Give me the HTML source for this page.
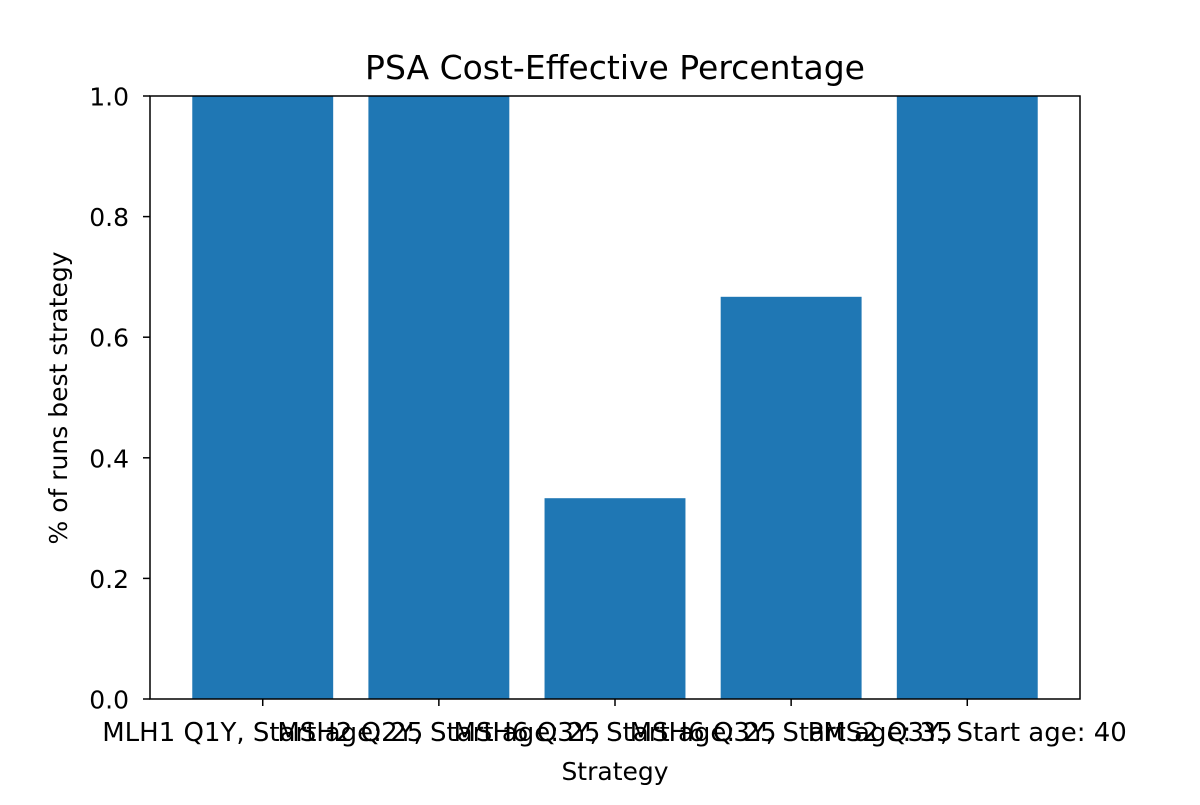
<!DOCTYPE html>
<html><head><meta charset="utf-8"><style>
body{margin:0;background:#fff;}
svg text{font-family:"DejaVu Sans","Liberation Sans",sans-serif;fill:#000;}
</style></head><body>
<svg id="chart" width="1200" height="800">
<rect width="1200" height="800" fill="#fff"/>
<text x="615" y="79" font-size="33" text-anchor="middle">PSA Cost-Effective Percentage</text>
<g id="bars"></g>
<g id="yticks"></g>
<g id="xticks"></g>
<rect x="150" y="96" width="930" height="603" fill="none" stroke="#000" stroke-width="1.5"/>
<text x="615" y="780" font-size="25" text-anchor="middle">Strategy</text>
<text transform="translate(67,398) rotate(-90)" font-size="25" text-anchor="middle">% of runs best strategy</text>
</svg>
<script>
const categories=["MLH1 Q1Y, Start age: 25","MSH2 Q2Y, Start age: 25","MSH6 Q3Y, Start age: 25","MSH6 Q3Y, Start age: 35","PMS2 Q3Y, Start age: 40"];
const values=[1.0,1.0,0.333,0.667,1.0];
const yTicks=[0,0.2,0.4,0.6,0.8,1.0];
const yTickLabels=["0.0","0.2","0.4","0.6","0.8","1.0"];
const ns="http://www.w3.org/2000/svg";
const L=150,R=1080,T=96,B=699;
const xmin=-0.64,xmax=categories.length-1+0.64;
const xs=v=>L+(v-xmin)/(xmax-xmin)*(R-L);
const ys=v=>B-(v/1.0)*(B-T);
function mk(t,a,p){const e=document.createElementNS(ns,t);for(const k in a)e.setAttribute(k,a[k]);p.appendChild(e);return e;}
const bars=document.getElementById('bars'),xt=document.getElementById('xticks'),yt=document.getElementById('yticks');
categories.forEach((c,i)=>{
 const x0=xs(i-0.4),x1=xs(i+0.4);
 const r=mk('rect',{x:x0,y:ys(values[i]),width:x1-x0,height:ys(0)-ys(values[i]),fill:'#1f77b4'},bars);
 
 
 const l=mk('line',{x1:xs(i),x2:xs(i),y1:B,y2:B+7,stroke:'#000','stroke-width':1.5},xt);
 
 
 const t=mk('text',{x:xs(i),y:741,'font-size':26,'text-anchor':'middle'},xt);
 t.textContent=c;
 
 
});
yTicks.forEach((v,i)=>{
 const l=mk('line',{x1:L-7,x2:L,y1:ys(v),y2:ys(v),stroke:'#000','stroke-width':1.5},yt);
 
 
 const t=mk('text',{x:L-21,y:ys(v)+9.5,'font-size':25,'text-anchor':'end'},yt);
 t.textContent=yTickLabels[i];
 
 
});
</script>
</body></html>
